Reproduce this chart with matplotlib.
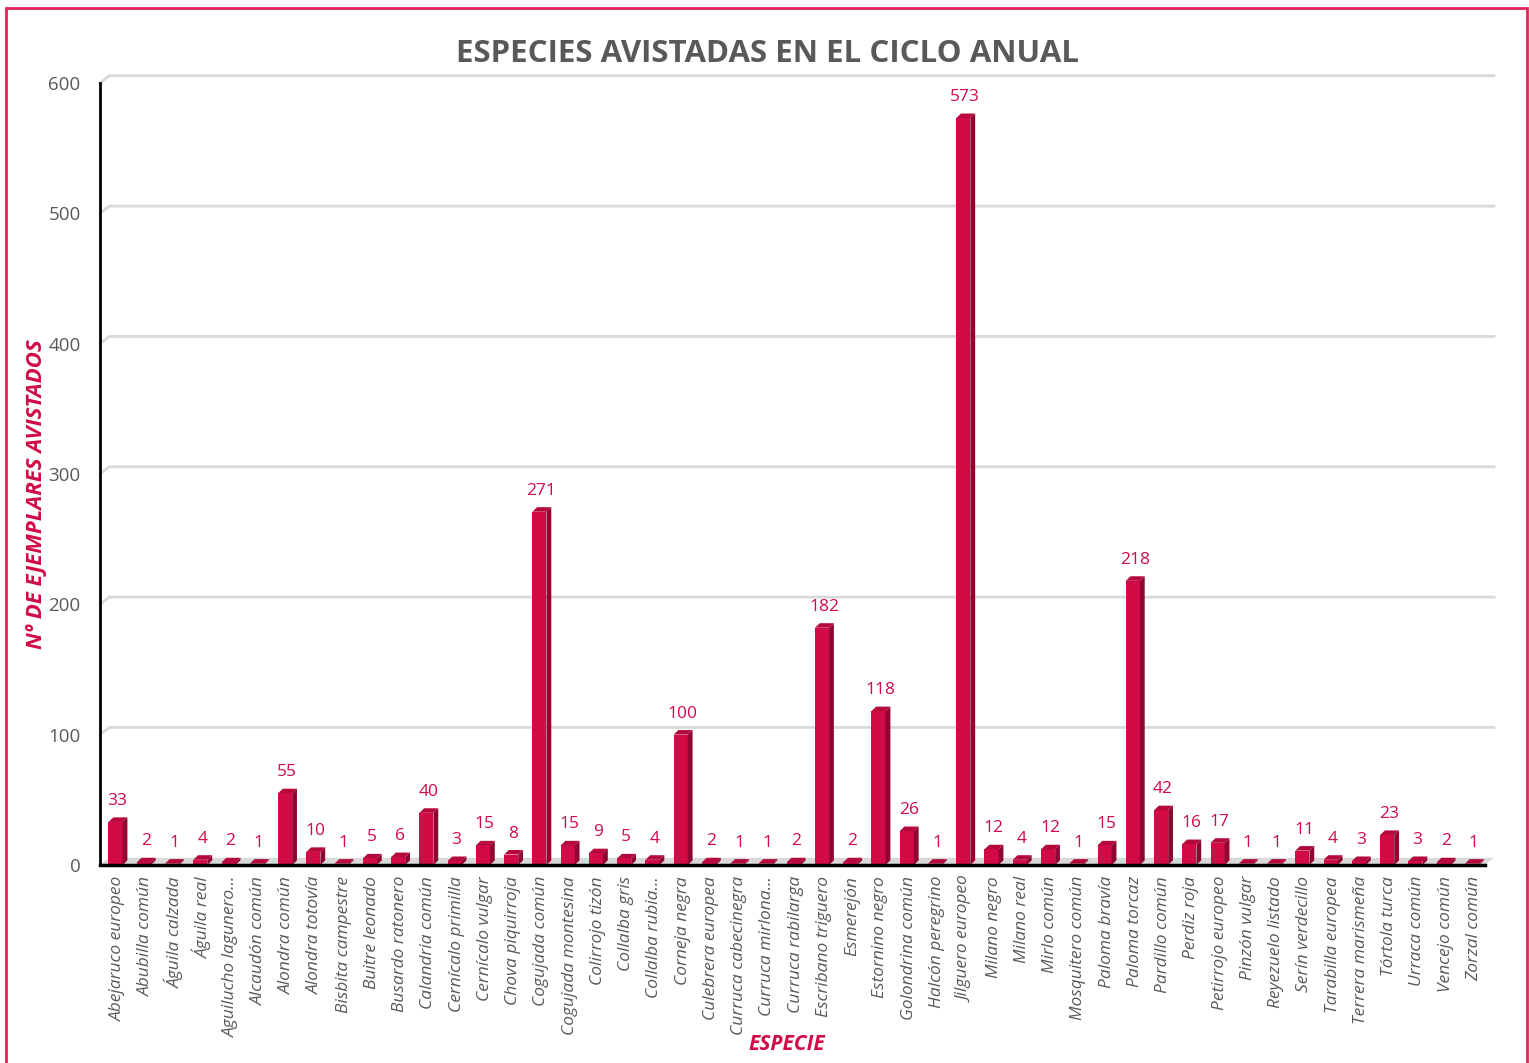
import numpy as np
import matplotlib.pyplot as plt
from matplotlib.patches import Polygon, Rectangle

plt.rcParams['font.family'] = ['Open Sans', 'DejaVu Sans']

especies = ['Abejaruco europeo', 'Abubilla común', 'Águila calzada', 'Águila real',
            'Aguilucho lagunero…', 'Alcaudón común', 'Alondra común', 'Alondra totovía',
            'Bisbita campestre', 'Buitre leonado', 'Busardo ratonero', 'Calandria común',
            'Cernícalo primilla', 'Cernícalo vulgar', 'Chova piquirroja', 'Cogujada común',
            'Cogujada montesina', 'Colirrojo tizón', 'Collalba gris', 'Collalba rubia…',
            'Corneja negra', 'Culebrera europea', 'Curruca cabecinegra', 'Curruca mirlona…',
            'Curruca rabilarga', 'Escribano triguero', 'Esmerejón', 'Estornino negro',
            'Golondrina común', 'Halcón peregrino', 'Jilguero europeo', 'Milano negro',
            'Milano real', 'Mirlo común', 'Mosquitero común', 'Paloma bravía',
            'Paloma torcaz', 'Pardillo común', 'Perdiz roja', 'Petirrojo europeo',
            'Pinzón vulgar', 'Reyezuelo listado', 'Serín verdecillo', 'Tarabilla europea',
            'Terrera marismeña', 'Tórtola turca', 'Urraca común', 'Vencejo común',
            'Zorzal común']
avistados = [33, 2, 1, 4, 2, 1, 55, 10, 1, 5, 6, 40, 3, 15, 8, 271, 15, 9, 5, 4,
             100, 2, 1, 1, 2, 182, 2, 118, 26, 1, 573, 12, 4, 12, 1, 15, 218, 42, 16, 17,
             1, 1, 11, 4, 3, 23, 3, 2, 1]
yticks = [0, 100, 200, 300, 400, 500, 600]

ROJO = '#D20A46'
LADO = '#8E0730'
TECHO = '#B5093C'
GRIS = '#595959'

fig = plt.figure(figsize=(15.29, 10.63), dpi=100)
ax = fig.add_axes([0.0654, 0.1863, 0.9056, 0.7357])

n = len(especies)
x = np.arange(n)
ax.set_xlim(-0.5, n - 0.5)
ax.set_ylim(0, 600)

# fondo 3D: rejilla desplazada y suelo
gdx, gdy = 0.33, 5.5
for t in yticks[1:]:
    ax.plot([-0.5, -0.5 + gdx, n - 0.5 + gdx], [t, t + gdy, t + gdy],
            color='#d9d9d9', lw=2, clip_on=False, zorder=1)
ax.add_patch(Polygon([[-0.5, 0], [n - 0.5, 0], [n - 0.5 + gdx, gdy], [-0.5 + gdx, gdy]],
                     closed=True, fc='#d9d9d9', ec='none', clip_on=False, zorder=1))

# columnas 3D
w = 0.5
bdx, bdy = 0.17, 3.5
for xi, v in zip(x, avistados):
    x0 = xi - w / 2 + 0.05
    x1 = x0 + w
    ax.add_patch(Rectangle((x0, 0), w, v, fc=ROJO, ec='none', zorder=3, clip_on=False))
    ax.add_patch(Polygon([[x1, 0], [x1 + bdx, bdy], [x1 + bdx, v + bdy], [x1, v]],
                         closed=True, fc=LADO, ec='none', zorder=3, clip_on=False))
    ax.add_patch(Polygon([[x0, v], [x1, v], [x1 + bdx, v + bdy], [x0 + bdx, v + bdy]],
                         closed=True, fc=TECHO, ec='none', zorder=3, clip_on=False))
    ax.text(xi + 0.12, v + 10, str(v), ha='center', va='bottom', color=ROJO,
            fontsize=12.5, zorder=4)

for s in ['top', 'right']:
    ax.spines[s].set_visible(False)
ax.spines['left'].set_linewidth(2)
ax.spines['bottom'].set_linewidth(2.5)
ax.spines['left'].set_zorder(5)
ax.spines['bottom'].set_zorder(5)

ax.set_yticks(yticks)
ax.set_yticklabels([str(t) for t in yticks], fontsize=13.5, color=GRIS)
ax.set_xticks(x + 0.12)
ax.set_xticklabels(especies, rotation=90, fontsize=12.5, color=GRIS, style='italic')
ax.tick_params(axis='both', length=0, pad=14)
ax.tick_params(axis='x', pad=8)

ax.set_ylabel('Nº DE EJEMPLARES AVISTADOS', fontsize=16, color=ROJO,
              fontweight='bold', style='italic', va='center')
ax.yaxis.set_label_coords(-0.046, 0.474)
ax.set_xlabel('ESPECIE', fontsize=15, color=ROJO, fontweight='bold', style='italic',
              va='center')
ax.xaxis.set_label_coords(0.496, -0.229)

fig.text(0.502, 0.949, 'ESPECIES AVISTADAS EN EL CICLO ANUAL', ha='center', va='center',
         fontsize=22.5, fontweight='bold', color=GRIS)

fig.patches.append(Rectangle((6 / 1529, -0.01), 1521 / 1529, 1 - 8 / 1063 + 0.01,
                             transform=fig.transFigure, fill=False, ec='#E0245A', lw=2))

fig.savefig('out.png', dpi=100)
